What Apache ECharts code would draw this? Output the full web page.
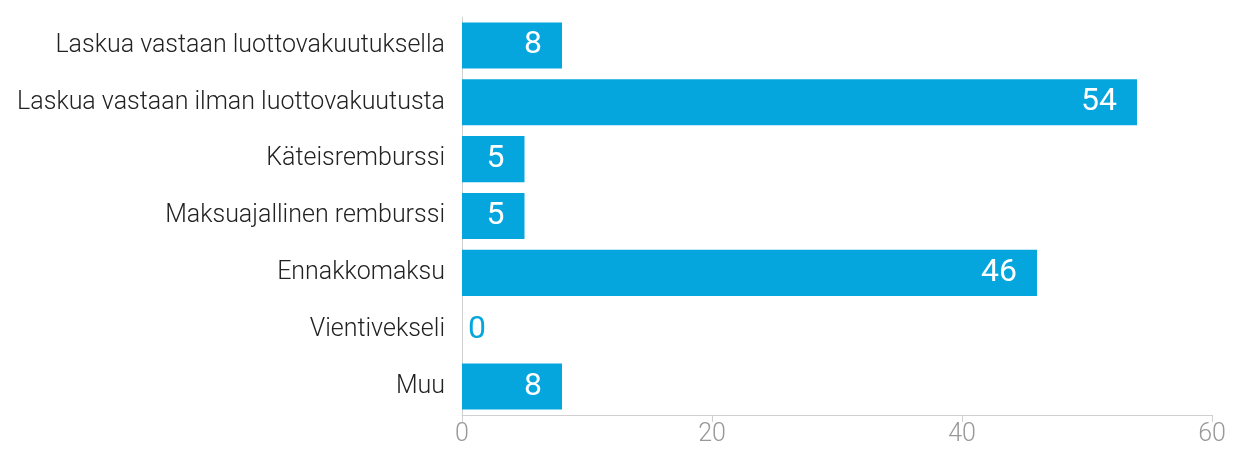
<!DOCTYPE html>
<html><head><meta charset="utf-8">
<script src="https://cdn.jsdelivr.net/npm/echarts@6/dist/echarts.min.js"></script>
<style>html,body{margin:0;padding:0;background:#fff}#c{width:1240px;height:450px}</style>
</head><body><div id="c"></div>
<script>
const categories = ["Laskua vastaan luottovakuutuksella","Laskua vastaan ilman luottovakuutusta","Käteisremburssi","Maksuajallinen remburssi","Ennakkomaksu","Vientivekseli","Muu"];
const values = [8,54,5,5,46,0,8];
const xTicks = [0,20,40,60];
const blue = '#05A6DE';
const chart = echarts.init(document.getElementById('c'), null, {renderer:'canvas'});
chart.setOption({
  animation:false,
  grid:{left:462,right:28,top:17,bottom:35,containLabel:false},
  xAxis:{type:'value',min:xTicks[0],max:xTicks[xTicks.length-1],interval:20,
    splitLine:{show:false},
    axisLine:{show:true,lineStyle:{color:'#d0d0d0',width:1}},
    axisTick:{show:true,length:7,lineStyle:{color:'#d0d0d0'}},
    axisLabel:{color:'#999',fontSize:25,fontFamily:'Roboto',fontWeight:300,margin:7}},
  yAxis:{type:'category',data:categories,inverse:true,
    axisLine:{show:true,lineStyle:{color:'#d0d0d0',width:1}},
    axisTick:{show:false},
    axisLabel:{color:'#222',fontSize:25,fontFamily:'Roboto',fontWeight:300,margin:17}},
  series:[{type:'bar',barCategoryGap:'19%',
    data:values.map(v=>({value:v,label: v===0?{position:'insideLeft',color:blue,distance:6}:{}})),
    itemStyle:{color:blue},
    label:{show:true,position:'insideRight',color:'#fff',fontSize:32,fontFamily:'Roboto',fontWeight:400,distance:20}}]
});
</script></body></html>
